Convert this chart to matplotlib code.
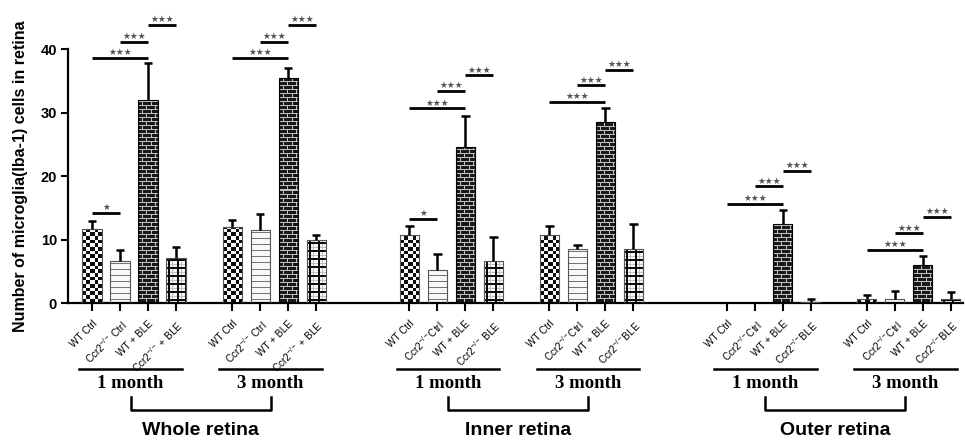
import numpy as np
import matplotlib
matplotlib.use('Agg')
import matplotlib.pyplot as plt
from matplotlib.transforms import blended_transform_factory

plt.rcParams['font.family'] = ['Liberation Sans', 'DejaVu Sans']
plt.rcParams['mathtext.fontset'] = 'custom'
plt.rcParams['mathtext.rm'] = 'Liberation Sans'
plt.rcParams['mathtext.it'] = 'Liberation Sans:italic'
plt.rcParams['mathtext.bf'] = 'Liberation Sans:bold'
plt.rcParams['mathtext.default'] = 'regular'

# ---------------- data ----------------
regions = ['Whole retina', 'Inner retina', 'Outer retina']
ages = ['1 month', '3 month']
patterns = ['checker', 'lines', 'brick', 'grid']

labels_whole = ['WT Ctrl', r'Ccr2$^{-/-}$ Ctrl', 'WT + BLE', r'Ccr2$^{-/-}$ + BLE']
labels_inner1 = ['WT Ctrl', r'Ccr2$^{-/-}$Ctrl', 'WT + BLE', r'Ccr2$^{-/-}$ BLE']
labels_other = ['WT Ctrl', r'Ccr2$^{-/-}$Ctrl', 'WT + BLE', r'Ccr2$^{-/-}$BLE']
group_labels = [labels_whole, labels_whole, labels_inner1, labels_other,
                labels_other, labels_other]

whole_1m = [11.65, 6.7, 32.0, 7.2]
whole_1m_err = [1.35, 1.7, 5.8, 1.7]
whole_3m = [12.05, 11.5, 35.5, 10.0]
whole_3m_err = [1.05, 2.5, 1.5, 0.75]
inner_1m = [10.7, 5.3, 24.6, 6.7]
inner_1m_err = [1.5, 2.5, 4.9, 3.7]
inner_3m = [10.7, 8.5, 28.5, 8.6]
inner_3m_err = [1.5, 0.7, 2.2, 3.9]
outer_1m = [0.0, 0.0, 12.5, 0.25]
outer_1m_err = [0.0, 0.0, 2.2, 0.45]
outer_3m = [0.6, 0.6, 6.0, 0.6]
outer_3m_err = [0.65, 1.3, 1.4, 1.25]

group_values = [whole_1m, whole_3m, inner_1m, inner_3m, outer_1m, outer_3m]
group_errors = [whole_1m_err, whole_3m_err, inner_1m_err, inner_3m_err,
                outer_1m_err, outer_3m_err]

# significance: (bar i, bar j, line height, number of stars)
sig_whole_1m = [(0, 1, 14.2, 1), (0, 2, 38.7, 3), (1, 2, 41.2, 3), (2, 3, 43.9, 3)]
sig_whole_3m = [(0, 2, 38.7, 3), (1, 2, 41.2, 3), (2, 3, 43.9, 3)]
sig_inner_1m = [(0, 1, 13.3, 1), (0, 2, 30.7, 3), (1, 2, 33.4, 3), (2, 3, 35.9, 3)]
sig_inner_3m = [(0, 2, 31.7, 3), (1, 2, 34.3, 3), (2, 3, 36.8, 3)]
sig_outer_1m = [(0, 2, 15.7, 3), (1, 2, 18.4, 3), (2, 3, 20.9, 3)]
sig_outer_3m = [(0, 2, 8.4, 3), (1, 2, 11.0, 3), (2, 3, 13.6, 3)]
group_sigs = [sig_whole_1m, sig_whole_3m, sig_inner_1m, sig_inner_3m,
              sig_outer_1m, sig_outer_3m]

yticks = [0, 10, 20, 30, 40]

# ---------------- layout ----------------
W, H = 965, 440
fig = plt.figure(figsize=(W / 100, H / 100), dpi=100)
ax_left, ax_right = 68 / W, 963 / W
ax_bottom = (H - 303.3) / H
ax = fig.add_axes([ax_left, ax_bottom, ax_right - ax_left, 1 - ax_bottom])
ymax = 303.3 / 6.35
ax.set_ylim(0, ymax)
ax.set_xlim(-0.857, 31.1)

group_starts = [0, 5, 11.33, 16.33, 22.67, 27.67]
bar_w = 0.68

p0 = ax.transData.transform((0, 0))
p1 = ax.transData.transform((1, 1))
sx, sy = p1[0] - p0[0], p1[1] - p0[1]

def make_pattern(kind, nx, ny):
    yy, xx = np.mgrid[0:ny, 0:nx]
    if kind == 'checker':
        c = 3.7
        img = ((np.floor(xx / c) + np.floor(yy / c)) % 2).astype(float)
        img = 0.05 + 0.93 * img
    elif kind == 'lines':
        img = np.ones((ny, nx)) * 0.97
        img[(yy % 6) == 3] = 0.45
    elif kind == 'brick':
        img = np.zeros((ny, nx)) + 0.1
        row = yy // 4
        img[(yy % 4) == 0] = 0.75
        vert = ((xx + (row % 2) * 4) % 8 == 0) & ((yy % 4) != 0)
        img[vert] = 0.75
    else:  # grid
        img = np.ones((ny, nx)) * 0.97
        img[(xx % 8) == 6] = 0.75
        img[(yy % 8) == 6] = 0.75
        img[np.isin(xx % 8, [2, 3])] = 0.05
        img[np.isin(yy % 8, [2, 3])] = 0.05
    return img

tick_pos = []
tick_lab = []
for g in range(6):
    xs = [group_starts[g] + i for i in range(4)]
    vals = group_values[g]
    errs = group_errors[g]
    for i in range(4):
        x, v, e = xs[i], vals[i], errs[i]
        tick_pos.append(x)
        tick_lab.append(group_labels[g][i])
        edge = 'black' if patterns[i] == 'brick' else '#555555'
        bars = ax.bar(x, v, width=bar_w, facecolor='none', edgecolor=edge,
                      linewidth=0.8, zorder=3)
        if v > 0:
            b = bars[0]
            nx = max(1, int(round(bar_w * sx)))
            ny = max(1, int(round(v * sy)))
            img = make_pattern(patterns[i], nx, ny)
            im = ax.imshow(img, cmap='gray', vmin=0, vmax=1, origin='lower',
                           extent=(b.get_x(), b.get_x() + b.get_width(), 0, v),
                           aspect='auto', interpolation='nearest', zorder=2)
            im.set_clip_path(b)
        if e > 0:
            ax.vlines(x, v, v + e, color='black', lw=1.8, zorder=4)
            ax.hlines(v + e, x - 0.15, x + 0.15, color='black', lw=1.8, zorder=4)
    for (i, j, h, n) in group_sigs[g]:
        ax.plot([xs[i], xs[j]], [h, h], color='black', lw=2.0, clip_on=False,
                solid_capstyle='butt', zorder=5)
        ax.text((xs[i] + xs[j]) / 2, h + 0.45, '\u2605' * n, ha='center',
                va='baseline', fontsize=6.3, color='#555555', clip_on=False,
                family='DejaVu Sans')

ax.set_aspect('auto')
ax.set_xlim(-0.857, 31.1)
ax.set_ylim(0, ymax)

# axes styling
for s in ['top', 'right']:
    ax.spines[s].set_visible(False)
ax.spines['left'].set_bounds(0, 40)
ax.spines['left'].set_linewidth(1.6)
ax.spines['bottom'].set_linewidth(1.6)
ax.set_yticks(yticks)
ax.set_yticklabels([str(t) for t in yticks], fontsize=10.5, fontweight='bold')
ax.tick_params(axis='y', length=5, width=1.5, pad=3, direction='out')
ax.set_xticks(tick_pos)
ax.set_xticklabels(tick_lab, rotation=45, ha='right', va='top',
                   rotation_mode='anchor', fontsize=7.2)
ax.tick_params(axis='x', length=6, width=1.5, pad=5, direction='out')

fig.text(21 / W, 1 - 176 / H, 'Number of microglia(Iba-1) cells in retina',
         rotation=90, ha='center', va='center', fontsize=11.5, fontweight='bold')

# bottom annotations
tr = blended_transform_factory(ax.transData, fig.transFigure)
def fy(p):
    return 1 - p / H

for g in range(6):
    x0 = group_starts[g] - 0.45
    x1 = group_starts[g] + 3 + 0.2
    ax.plot([x0, x1], [fy(369), fy(369)], transform=tr, color='black', lw=1.8,
            clip_on=False)
    ax.text((x0 + x1) / 2, fy(383), ages[g % 2], transform=tr, ha='center',
            va='center', fontsize=13.5, fontweight='bold',
            family=['Liberation Serif', 'DejaVu Serif'])

for r in range(3):
    ga, gb = 2 * r, 2 * r + 1
    ca = group_starts[ga] + 1.375
    cb = group_starts[gb] + 1.375
    ax.plot([ca, ca, cb, cb], [fy(397), fy(410), fy(410), fy(397)], transform=tr,
            color='black', lw=1.8, clip_on=False)
    ax.text((ca + cb) / 2, fy(430), regions[r], transform=tr, ha='center',
            va='center', fontsize=14, fontweight='bold')

fig.savefig('out.png', dpi=100)
